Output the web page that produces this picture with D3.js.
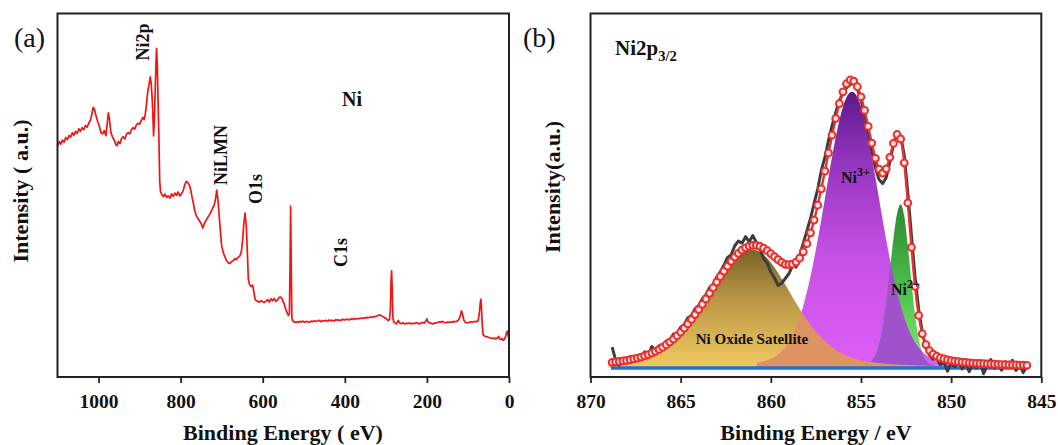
<!DOCTYPE html>
<html><head><meta charset="utf-8">
<script src="https://cdn.jsdelivr.net/npm/d3@7/dist/d3.min.js"></script>
<style>
html,body{margin:0;padding:0;background:#fff;}
svg{display:block;}
text{font-family:"Liberation Serif","Times New Roman",serif;fill:#111;}
</style></head><body>
<svg id="chart" width="1058" height="445"></svg>
<script>
// ---------- Panel (a): survey spectrum ----------
const aTicks = [1000, 800, 600, 400, 200, 0];
const aEnergy = [1100,1096,1092,1088,1084,1080,1076,1072,1068,1064,1060,1056,1052,1048,1044,1040,1036,1032,1028,1024,
1020,1016,1013,1010,1006,1002,998,994,990,986,982,979,976,973,970,966,962,958,955,952,
948,944,940,936,932,928,924,920,916,912,908,904,900,896,892,889,886,883,880,877,
874,872,870,868,866,864,862,860,858.7,857,855,853,851,849,846,842,838,834,830,826,
822,818,814,810,806,802,798,794,790,786,782,778,775,772,769,766,762,758,754,750,
746,742,738,734,730,726,722,718,715,712,709,706,703,700,696,692,688,684,680,676,
672,668,664,660,656,652,649,646,643,640,637,635,632,628,625,622,619,616,612,608,
604,600,596,592,588,584,580,576,572,568,564,560,556,552,548,544,540,537,535,533.5,
532,530.5,529,526,522,518,514,510,506,502,498,494,490,486,482,478,474,470,466,462,
458,454,450,446,442,438,434,430,426,422,418,414,410,406,402,398,394,390,386,382,
378,374,370,366,362,358,354,350,346,342,338,334,330,326,322,318,314,310,306,302,
298,294,291,289,287.5,286,284.5,283,281,278,274,270,266,262,258,254,250,246,242,238,
234,230,226,222,218,214,210,206,202,200,198,194,190,186,182,178,174,170,166,162,
158,154,150,146,142,138,134,130,126,122,119,116,113,110,106,102,98,94,90,86,
82,78,75,72,70,68.5,67,65,63,60,56,52,48,44,40,36,32,28,25,23,
20,17,14,11,8,6,4,2,0];
const aIntensity = [63.5,64.8,64.0,65.2,64.6,65.9,65.3,66.4,66.0,67.2,66.5,67.6,67.0,68.3,67.6,68.6,68.0,69.2,68.7,69.8,
70.6,72.4,74.2,73.6,71.8,70.2,69.0,67.2,66.9,67.8,66.4,69.5,72.7,70.5,67.3,66.0,65.2,64.0,63.6,64.8,
64.2,65.6,66.1,65.5,66.8,67.2,66.9,68.0,68.6,68.2,69.3,69.8,69.5,70.6,71.4,70.8,72.4,75.3,78.6,80.5,
82.6,81.0,77.8,73.4,66.3,70.5,78.8,86.0,90.4,86.5,76.0,66.0,54.0,51.0,50.2,49.6,50.3,49.4,49.8,49.2,
50.4,49.7,50.6,50.0,50.9,49.8,50.4,51.2,52.9,53.8,53.4,52.6,51.2,49.4,47.8,45.9,44.4,43.6,42.9,42.2,
41.0,42.3,43.1,43.9,44.6,45.4,46.5,47.3,49.0,51.4,48.6,44.2,40.0,36.0,34.2,33.0,32.0,31.4,31.2,31.8,
32.0,32.5,32.3,32.9,33.2,34.5,37.6,42.3,45.1,41.5,33.0,26.8,25.4,24.9,25.3,23.8,21.5,21.0,20.8,20.6,
21.0,20.7,20.5,20.9,21.3,20.6,21.5,21.0,21.6,20.8,21.2,21.9,22.0,21.3,20.2,18.6,17.5,16.9,17.6,30.0,
47.0,30.0,16.2,15.3,15.0,15.2,15.0,15.3,15.1,15.4,15.0,15.3,15.2,15.0,15.4,15.2,15.5,15.3,15.4,15.6,
15.2,15.5,15.4,15.6,15.3,15.7,15.5,15.6,15.4,15.8,15.6,15.7,15.5,15.9,15.7,15.8,15.9,15.7,16.0,15.8,
16.1,15.9,16.1,16.0,16.2,16.1,16.3,16.2,16.4,16.3,16.5,16.4,16.6,16.6,16.8,17.0,17.1,16.8,16.6,16.2,
16.0,15.5,15.9,18.5,26.0,29.2,24.0,16.5,15.2,14.9,14.6,15.6,14.8,14.7,14.9,14.6,14.8,14.7,14.9,14.6,
14.8,14.7,14.9,14.8,14.6,14.9,15.0,14.8,15.6,16.0,15.2,14.9,14.8,14.6,14.8,14.9,15.0,15.2,15.1,15.3,
15.0,14.9,15.1,15.0,15.2,15.1,15.3,15.2,15.4,15.8,16.8,18.2,17.2,15.6,15.0,14.9,15.0,15.2,15.1,15.2,
15.3,15.2,15.6,17.8,20.5,21.4,19.0,14.0,11.6,11.3,11.1,11.0,10.8,10.7,10.6,10.7,10.5,10.8,11.2,10.4,
10.3,10.6,10.1,10.4,11.3,12.2,12.6,11.4,10.2];
const aPeakLabels = ["Ni2p", "NiLMN", "O1s", "C1s"];

// ---------- Panel (b): Ni2p3/2 high-resolution ----------
const bTicks = [870, 865, 860, 855, 850, 845];
const bEnergy = [868.8,868.6,868.4,868.2,868.0,867.8,867.6,867.4,867.2,867.0,
866.8,866.6,866.4,866.2,866.0,865.8,865.6,865.4,865.2,865.0,
864.8,864.6,864.4,864.2,864.0,863.8,863.6,863.4,863.2,863.0,
862.8,862.6,862.4,862.2,862.0,861.8,861.6,861.4,861.2,861.0,
860.8,860.6,860.4,860.2,860.0,859.8,859.6,859.4,859.2,859.0,
858.8,858.6,858.4,858.2,858.0,857.8,857.6,857.4,857.2,857.0,
856.8,856.6,856.4,856.2,856.0,855.8,855.6,855.4,855.2,855.0,
854.8,854.6,854.4,854.2,854.0,853.8,853.6,853.4,853.2,853.0,
852.8,852.6,852.4,852.2,852.0,851.8,851.6,851.4,851.2,851.0,
850.8,850.6,850.4,850.2,850.0,849.8,849.6,849.4,849.2,849.0,
848.8,848.6,848.4,848.2,848.0,847.8,847.6,847.4,847.2,847.0,
846.8,846.6,846.4,846.2,846.0,845.8];
const bData = [8.2,4.6,3.2,4.8,3.9,5.6,4.4,5.9,5.2,6.9,
6.0,8.4,7.3,8.6,8.3,9.9,10.2,11.8,11.9,13.7,
14.4,16.3,16.9,18.8,19.6,21.5,22.6,24.6,25.4,27.5,
28.9,30.8,32.9,33.6,36.1,37.4,36.8,38.6,37.2,38.9,
37.0,35.2,32.6,31.4,28.9,27.3,25.2,25.8,27.1,28.4,
30.6,30.2,33.5,36.8,40.2,43.6,47.8,51.6,56.9,60.4,
65.1,69.2,72.8,76.1,78.0,79.6,80.4,80.9,79.2,76.3,
72.1,67.4,62.3,57.6,54.3,53.2,54.9,59.1,64.0,67.2,
66.4,61.0,50.6,38.9,27.4,18.6,12.3,8.1,6.0,4.9,
5.2,3.4,4.1,1.6,3.9,2.8,4.6,2.2,3.7,1.5,
3.4,2.5,4.4,0.9,3.2,4.8,2.4,3.5,1.9,4.2,
2.7,4.6,1.8,3.3,1.2,3.0];
const bFit = [4.04,4.15,4.27,4.41,4.57,4.75,4.96,5.20,5.48,5.80,
6.17,6.59,7.06,7.59,8.19,8.87,9.61,10.45,11.35,12.36,
13.43,14.60,15.84,17.16,18.54,19.99,21.49,23.01,24.55,26.11,
27.63,29.10,30.50,31.81,33.00,34.03,34.89,35.54,35.98,36.22,
36.21,35.93,35.43,34.75,33.96,33.10,32.28,31.55,31.01,30.89,
31.03,31.61,32.70,34.40,36.69,39.63,43.16,47.25,51.78,56.63,
61.62,66.53,71.14,75.18,78.45,80.67,81.70,81.42,79.85,77.08,
73.33,68.93,64.34,60.17,57.17,56.09,57.27,60.43,64.27,66.71,
65.50,58.92,47.90,35.66,24.93,16.92,11.88,8.93,7.28,6.32,
5.71,5.28,4.96,4.71,4.52,4.35,4.21,4.11,4.00,3.91,
3.83,3.77,3.71,3.66,3.61,3.56,3.51,3.48,3.43,3.40,
3.36,3.33,3.30,3.26,3.25,3.22];
const bgLevel = 2.5;
const bgRange = [868.86, 845.74];
const satE = [869,868.5,868,867.5,867,866.5,866,865.5,865,864.5,
864,863.5,863,862.5,862,861.5,861,860.5,860,859.5,
859,858.5,858,857.5,857,856.5,856,855.5,855,854.5,
854,853.5,853,852.5,852,851.5,851,850.5,850,849.5,
849,848.5,848,847.5,847,846.5,846];
const satI = [1.25,1.49,1.83,2.32,3.02,4.00,5.35,7.15,9.45,12.26,
15.54,19.19,22.97,26.59,29.67,31.76,32.50,31.58,29.03,25.38,
21.22,17.05,13.22,9.95,7.31,5.29,3.83,2.80,2.11,1.64,
1.33,1.11,0.97,0.85,0.76,0.69,0.62,0.56,0.52,0.47,
0.44,0.40,0.38,0.35,0.33,0.31,0.29];
const ni3E = [860.75,860.5,860.25,860,859.75,859.5,859.25,859,858.75,858.5,
858.25,858,857.75,857.5,857.25,857,856.75,856.5,856.25,856,
855.75,855.5,855.25,855,854.75,854.5,854.25,854,853.75,853.5,
853.25,853,852.75,852.5,852.25,852,851.75,851.5,851.25,851,
850.75,850.5,850.25,850,849.75,849.5,849.25,849,848.75,848.5];
const ni3I = [1.39,1.61,1.95,2.42,3.09,4.03,5.32,7.08,9.41,12.43,
16.23,20.85,26.32,32.56,39.40,46.64,53.93,60.86,66.97,71.81,
74.92,76.00,74.92,71.81,66.97,60.86,53.93,46.64,39.40,32.56,
26.32,20.85,16.23,12.43,9.41,7.08,5.32,4.03,3.09,2.42,
1.95,1.61,1.39,1.20,1.08,0.97,0.88,0.82,0.75,0.70];
const ni2E = [855.2,855.0,854.8,854.6,854.4,854.2,854.0,853.8,853.6,853.4,
853.2,853.0,852.8,852.6,852.4,852.2,852.0,851.8,851.6,851.4,
851.2,851.0,850.8,850.6,850.4,850.2,850.0,849.8,849.6,849.4,
849.2,849.0];
const ni2I = [0.54,0.66,0.87,1.28,2.11,3.74,6.70,11.52,18.39,26.88,
35.59,42.39,45.00,41.70,33.43,23.47,14.59,8.18,4.27,2.22,
1.26,0.83,0.62,0.50,0.42,0.36,0.32,0.28,0.24,0.22,
0.19,0.17];

// ---------- drawing ----------
const svg = d3.select("#chart");
const yTop = 13.5, yBot = 377;
const FONT = '"Liberation Serif","Times New Roman",serif';

function frameAndAxis(x, ticks, left, right) {
  const ax = svg.append("g").attr("transform", `translate(0,${yBot})`)
    .call(d3.axisBottom(x).tickValues(ticks).tickSize(6).tickPadding(11).tickFormat(d3.format("d")));
  ax.select(".domain").remove();
  ax.selectAll(".tick line").attr("stroke", "#222").attr("stroke-width", 1.8);
  ax.selectAll(".tick text").attr("font-family", FONT).attr("font-weight", "bold")
    .attr("font-size", 19.5).attr("fill", "#111");
  svg.append("rect").attr("x", left).attr("y", yTop).attr("width", right - left)
    .attr("height", yBot - yTop).attr("fill", "none").attr("stroke", "#222").attr("stroke-width", 2);
}

// Panel a
const xa = d3.scaleLinear().domain([1100, 0]).range([57.5, 509]);
const ya = d3.scaleLinear().domain([0, 100]).range([yBot, yTop]);
const aPts = aEnergy.map((e, i) => [e, aIntensity[i]]);
svg.append("path").datum(aPts)
  .attr("d", d3.line().x(d => xa(d[0])).y(d => ya(d[1])))
  .attr("fill", "none").attr("stroke", "#f01414").attr("stroke-width", 1.7).attr("stroke-linejoin", "round");
frameAndAxis(xa, aTicks, 57.5, 509);

function vText(x, y, txt, size) {
  svg.append("text").attr("transform", `translate(${x},${y}) rotate(-90)`)
    .attr("text-anchor", "middle").attr("font-weight", "bold").attr("font-size", size).text(txt);
}
const aLabelPos = [[149, 42], [226.5, 155], [261.5, 189], [346.5, 252.5]];
aPeakLabels.forEach((t, i) => vText(aLabelPos[i][0], aLabelPos[i][1], t, 18));
svg.append("text").attr("x", 352).attr("y", 106).attr("text-anchor", "middle")
  .attr("font-weight", "bold").attr("font-size", 20).text("Ni");
svg.append("text").attr("x", 14).attr("y", 47).attr("font-size", 28).text("(a)");
vText(28, 191, "Intensity ( a.u.)", 22);
svg.append("text").attr("x", 283).attr("y", 440).attr("text-anchor", "middle")
  .attr("font-weight", "bold").attr("font-size", 22).text("Binding Energy ( eV)");

// Panel b
const xb = d3.scaleLinear().domain([870, 845]).range([590.5, 1041.3]);
const yb = d3.scaleLinear().domain([0, 100]).range([yBot, yTop]);
const defs = svg.append("defs");
function grad(id, y1, y2, stops) {
  const g = defs.append("linearGradient").attr("id", id).attr("gradientUnits", "userSpaceOnUse")
    .attr("x1", 0).attr("x2", 0).attr("y1", y1).attr("y2", y2);
  stops.forEach(s => g.append("stop").attr("offset", s[0]).attr("stop-color", s[1]));
}
grad("gSat", 250, 368, [[0, "#7a6326"], [0.45, "#bd9a48"], [1, "#f2c960"]]);
grad("gNi3", 90, 368, [[0, "#5c188a"], [0.25, "#9334bd"], [0.6, "#c650e6"], [1, "#de5ef7"]]);
grad("gNi2", 203, 368, [[0, "#2c882c"], [0.5, "#4bbd4b"], [1, "#80ee74"]]);

const comp = (E, I) => E.map((e, i) => [e, I[i]]);
const area = d3.area().curve(d3.curveMonotoneX)
  .x(d => xb(d[0])).y0(yb(bgLevel)).y1(d => yb(bgLevel + d[1]));
const satD = area(comp(satE, satI));
const ni3D = area(comp(ni3E, ni3I));
const ni2D = area(comp(ni2E, ni2I));
defs.append("clipPath").attr("id", "clipNi3").append("path").attr("d", ni3D);

svg.append("path").attr("d", satD).attr("fill", "url(#gSat)");
svg.append("path").attr("d", ni3D).attr("fill", "url(#gNi3)");
svg.append("path").attr("d", ni2D).attr("fill", "url(#gNi2)");
svg.append("path").attr("d", ni2D).attr("fill", "#a052cc").attr("clip-path", "url(#clipNi3)");
svg.append("path").attr("d", satD).attr("fill", "#de9462").attr("clip-path", "url(#clipNi3)");

// background line
svg.append("line").attr("x1", xb(bgRange[0])).attr("x2", xb(bgRange[1]))
  .attr("y1", yb(bgLevel)).attr("y2", yb(bgLevel)).attr("stroke", "#1f6fe0").attr("stroke-width", 3.5);

// experimental data
svg.append("path").datum(bEnergy.map((e, i) => [e, bData[i]]))
  .attr("d", d3.line().x(d => xb(d[0])).y(d => yb(d[1])))
  .attr("fill", "none").attr("stroke", "#3d3d3d").attr("stroke-width", 3).attr("stroke-linejoin", "round");

// fit envelope
const fitPts = bEnergy.map((e, i) => [e, bFit[i]]);
svg.append("path").datum(fitPts)
  .attr("d", d3.line().curve(d3.curveMonotoneX).x(d => xb(d[0])).y(d => yb(d[1])))
  .attr("fill", "none").attr("stroke", "#e8302f").attr("stroke-width", 2.4);
svg.append("g").selectAll("circle").data(fitPts).join("circle")
  .attr("cx", d => xb(d[0])).attr("cy", d => yb(d[1])).attr("r", 3.4)
  .attr("fill", "#ffe4e2").attr("stroke", "#e8302f").attr("stroke-width", 2);

frameAndAxis(xb, bTicks, 590.5, 1041.3);

svg.append("text").attr("x", 523).attr("y", 47).attr("font-size", 28).text("(b)");
const t1 = svg.append("text").attr("x", 615).attr("y", 55).attr("font-weight", "bold").attr("font-size", 21);
t1.append("tspan").text("Ni2p");
t1.append("tspan").attr("font-size", 14.5).attr("dy", 6).text("3/2");
function supLabel(x, y, base, sup) {
  const t = svg.append("text").attr("x", x).attr("y", y).attr("font-weight", "bold").attr("font-size", 16);
  t.append("tspan").text(base);
  t.append("tspan").attr("font-size", 12).attr("dy", -7).text(sup);
}
supLabel(841, 183, "Ni", "3+");
supLabel(891, 295, "Ni", "2+");
svg.append("text").attr("x", 752).attr("y", 344).attr("text-anchor", "middle")
  .attr("font-weight", "bold").attr("font-size", 15).text("Ni Oxide Satellite");
vText(560, 187, "Intensity(a.u.)", 22);
svg.append("text").attr("x", 816).attr("y", 440).attr("text-anchor", "middle")
  .attr("font-weight", "bold").attr("font-size", 22).text("Binding Energy / eV");
</script>
</body></html>
